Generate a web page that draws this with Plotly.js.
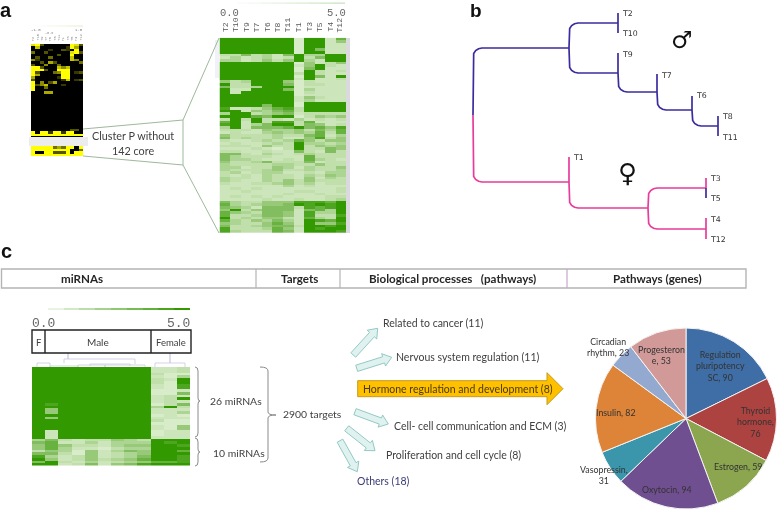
<!DOCTYPE html>
<html><head><meta charset="utf-8">
<script src="https://cdn.plot.ly/plotly-3.0.1.min.js"></script>
<style>html,body{margin:0;padding:0;background:#fff}#chart{width:778px;height:511px;filter:blur(0.4px)}</style>
</head><body><div id="chart"></div>
<script>
const W=778,H=511;
const sampleLabels=["T2","T10","T9","T7","T6","T8","T11","T1","T3","T5","T4","T12"];
// Panel a, right heatmap, 0-9 shade levels
const clusterRows=[
[9,9,9,9,9,9,9,1,9,9,2,7],[9,9,9,9,9,9,9,1,9,9,2,5],[9,9,9,9,9,9,9,1,9,9,2,2],[9,9,9,9,9,9,9,1,9,9,2,2],[9,9,9,9,9,9,9,1,9,6,2,2],[9,9,9,9,9,9,9,1,9,9,2,2],
[3,3,6,3,4,2,6,9,4,4,9,9],[2,4,2,3,4,2,3,9,3,6,9,9],[4,4,2,3,5,3,5,9,4,2,9,9],
[9,9,9,9,9,9,9,1,5,2,3,5],[9,9,9,9,9,9,9,2,5,9,3,2],[9,9,9,9,9,9,9,1,6,9,2,2],[9,9,9,9,9,9,9,1,9,3,2,3],[9,9,9,9,9,9,9,3,9,3,2,2],[9,9,9,9,9,9,9,1,9,6,2,9],[9,9,9,9,9,9,9,2,9,2,2,3],
[5,3,4,9,9,9,5,1,3,2,2,2],[9,3,3,9,9,9,6,1,3,3,2,2],[6,3,3,4,9,9,9,1,2,2,2,2],[9,2,2,9,9,9,6,1,4,2,2,2],[9,2,9,9,9,9,9,1,3,2,2,2],[9,9,9,9,9,9,9,1,2,2,2,2],[9,9,9,9,9,9,9,2,5,3,2,2],[9,9,9,9,9,9,9,2,4,2,2,2],
[9,9,9,9,9,9,9,1,9,9,9,9],[9,9,9,9,6,9,9,1,9,9,9,9],[8,2,2,3,5,7,8,3,9,9,9,9],[9,9,2,5,4,6,7,3,9,9,9,9],
[4,9,9,3,4,5,6,2,3,3,3,3],[9,9,9,7,6,9,9,1,3,5,4,5],[3,9,3,9,3,3,2,4,2,3,2,3],
[7,9,2,9,3,8,8,3,7,2,2,2],[8,9,2,4,6,9,9,3,6,5,2,3],[4,9,2,6,6,6,7,9,6,7,5,8],
[3,3,3,2,5,4,4,5,3,6,4,7],[2,3,2,2,4,5,4,5,4,7,3,7],[5,3,3,3,3,4,3,3,6,7,2,4],[6,3,4,3,3,4,2,2,5,8,3,5],[3,2,2,3,4,3,4,7,5,3,5,5],[2,3,2,2,3,4,3,9,4,4,3,4],[3,3,3,2,5,3,3,9,3,5,4,5],[2,2,2,3,2,1,3,9,3,3,6,5],[3,3,2,2,3,2,2,6,3,2,6,3],
[6,6,3,2,4,3,2,3,4,3,3,3],[6,4,3,3,3,2,2,2,7,3,3,3],[6,4,4,3,2,2,3,2,7,4,3,2],[5,3,3,4,6,3,3,3,6,2,3,3],[4,3,3,3,3,4,4,3,3,5,3,3],[4,4,2,3,3,5,4,2,4,3,3,5],[4,3,3,3,4,5,3,3,4,3,3,4],[3,4,2,3,4,4,2,2,3,2,4,4],[3,2,3,2,4,3,3,2,4,3,5,4],[4,3,3,2,4,3,3,2,5,2,4,3],[4,3,2,2,4,3,5,3,5,3,3,3],[3,2,2,3,3,4,5,3,4,2,3,3],
[2,2,2,2,2,2,4,2,3,2,2,2],[2,3,2,3,2,2,2,2,2,2,2,3],[2,2,3,2,2,2,2,3,3,2,2,3],[2,2,2,2,2,2,3,2,2,3,2,2],[2,3,2,3,2,3,2,2,2,2,3,3],[2,2,2,2,3,2,2,3,2,2,3,4],
[6,4,3,3,5,5,5,8,8,8,7,9],[7,4,3,4,5,5,6,9,8,9,8,9],[6,5,4,2,6,6,6,3,8,7,8,9],[5,9,3,5,6,6,6,2,6,7,4,9],[7,5,4,3,6,6,5,2,8,4,4,9],[7,3,3,4,6,6,5,2,8,3,3,8],[9,3,4,3,5,5,3,2,7,4,3,9],[7,4,3,5,4,6,4,2,9,8,7,9],[5,4,3,3,5,7,5,2,9,5,5,8],[6,3,3,4,5,6,6,3,9,9,8,9],[8,3,3,3,4,7,5,2,9,8,9,9],[8,4,3,3,3,7,6,2,9,9,9,8]
];
// Panel a, left black/yellow heatmap
const blackRow=[0,0,0,0,0,0,0,0,0,0,0,0];
const overviewRows=[
[8,9,3,0,0,0,0,0,0,9,8,3],[0,7,0,0,0,0,0,0,2,9,6,0],[0,0,0,0,2,0,0,3,2,0,9,0],[4,0,0,3,0,0,0,0,0,8,9,3],[0,0,0,0,0,0,3,0,0,9,0,0],[0,3,0,0,4,0,0,0,0,7,0,0],[5,2,0,0,0,0,0,0,0,7,5,0],[0,0,3,0,6,3,0,0,0,0,0,4],[3,0,0,5,0,0,4,0,0,0,0,0],
[9,9,3,0,0,0,7,5,7,0,0,0],[9,9,9,3,0,0,9,9,9,0,0,0],[9,3,0,0,0,4,5,9,9,0,2,3],[9,6,0,0,0,0,0,9,9,0,0,0],[6,0,0,0,0,0,2,9,9,0,0,0],[3,0,0,0,0,0,0,2,7,0,2,3],[9,0,5,0,3,6,0,0,0,0,0,0],[9,3,5,7,0,0,0,2,0,0,0,0],[9,0,0,4,0,0,0,0,0,0,0,0],[9,0,0,0,0,0,0,0,0,0,0,0],[0,0,0,6,6,0,0,0,0,0,0,0],
blackRow,blackRow,blackRow,blackRow,blackRow,blackRow,blackRow,blackRow,blackRow,blackRow,blackRow,blackRow,blackRow,blackRow,
[0,0,0,0,0,0,0,0,0,3,3,0],[9,0,9,9,2,9,9,2,9,9,0,0],[9,9,9,9,9,9,9,9,9,9,9,9],
blackRow,blackRow,blackRow,blackRow,
[9,9,9,9,9,4,6,4,9,9,0,9],[9,9,9,9,9,9,9,9,9,0,0,4],[9,0,0,9,9,3,3,3,9,0,9,9],[9,9,9,9,9,9,9,9,9,9,9,9]
];
// Panel c heatmap: 26 + 10 miRNAs
const mirnaRows=[
[9,9,9,9,9,9,9,9,9,2,2,3],[9,9,9,9,9,9,9,9,9,2,2,3],[9,9,9,9,9,9,9,9,9,3,1,1],[9,9,9,9,9,9,9,9,9,2,1,4],[9,9,9,9,9,9,9,9,9,3,2,9],[9,9,9,9,9,9,9,9,9,3,1,9],[9,9,9,9,9,9,9,9,9,2,1,8],[9,9,9,9,9,9,9,9,9,2,1,8],[9,9,9,9,9,9,9,9,9,1,1,2],[9,9,9,9,9,9,9,9,9,1,1,6],[9,9,9,9,9,9,9,9,9,2,3,2],[9,9,9,9,9,9,9,9,9,2,3,9],[9,9,9,9,9,9,9,9,9,2,3,2],
[9,8,9,9,9,9,9,9,9,1,3,6],[9,9,9,9,9,9,9,9,9,4,9,3],[9,5,9,9,9,9,9,9,9,2,2,2],[9,5,9,9,9,9,9,9,9,2,2,4],[9,9,9,9,9,9,9,9,9,1,2,1],[9,5,9,9,9,9,9,9,9,2,2,2],[9,9,9,9,9,9,9,9,9,3,1,1],[9,9,9,9,9,9,9,9,9,1,1,1],[9,9,9,9,9,9,9,9,9,2,1,5],[9,9,9,9,9,9,9,9,9,2,1,5],[9,2,9,9,9,9,9,9,9,1,2,2],[9,2,9,9,9,9,9,9,9,1,2,2],[9,2,9,9,9,9,9,9,9,2,2,2],
[4,6,3,2,3,3,5,4,3,9,9,9],[6,7,2,2,4,2,4,4,4,9,8,9],[5,7,5,3,3,2,4,5,5,9,9,8],[5,7,4,2,2,1,3,4,4,9,9,9],[3,5,4,1,5,2,4,6,5,9,9,7],[6,6,3,1,5,2,3,4,5,9,9,9],[8,4,2,3,5,2,3,4,6,9,9,8],[9,5,2,3,5,3,4,5,7,9,9,8],[6,9,3,2,4,2,3,4,5,7,7,8],[9,9,2,3,6,2,5,6,8,9,9,9]
];
const gradientLevels=[0,1,2,3,4,5,6,7,8,9];
// Panel b: tree
const blue="#3a2c9f",pink="#e83b9b";
const elbows=[ // from node (x0,y0) vertically to y1, then along to x1
[473,115,48,569,blue],[473,115,182,569,pink],
[569,48,23,618,blue],[569,48,73,618,blue],[618,73,92,657,blue],[657,92,110,692,blue],[692,110,126,718,blue],
[569,182,208,648,pink],[648,208,188,706,pink],[648,208,229,706,pink]];
const tips=[[618,13,33,blue],[618,53,73,blue],[657,74,92,blue],[692,96,110,blue],[718,116,136,blue],[569,157,182,pink],[706,178,188,pink],[706,188,198,blue],[706,218,239,pink]];
const treeLabels=[["T2",621,13],["T10",621,33],["T9",621,54],["T7",660,75],["T6",695,95],["T8",721,116],["T11",721,137],["T1",572,157],["T3",709,178],["T5",709,198],["T4",709,219],["T12",709,239]];
// Panel c: faint miRNA dendrogram
const dendroX=[[37,37,50,50],[50,50,78,78],[64,64,135,135],[68,68,68,68],[78,78,105,105],[90,90,130,130],[105,105,145,145],[155,155,185,185],[170,170,170,170]];
const dendroY=[[367,363,363,367],[367,366,366,367],[363,359,359,364],[359,353,353,359],[367,365,365,367],[366,364,364,366],[367,365,365,367],[367,363,363,367],[363,353,353,363]];
// Panel c: pathways arrows
const sideArrowTails=[[353.3,355],[356.7,368.3],[355,411.7],[346.7,428.3],[340,440.7]];
const sideArrowTips=[[377.7,328.3],[391.7,357.3],[388.3,424],[375,450.7],[357.3,471.7]];
const processes=[["Related to cancer (11)",382,323,"#404040"],["Nervous system regulation (11)",395,357,"#404040"],["Hormone regulation and development (8)",362,389,"#4a3a10"],["Cell- cell communication and ECM (3)",393,426,"#404040"],["Proliferation and cell cycle (8)",385,455,"#404040"],["Others (18)",356,481,"#3b3b78"]];
// Panel c: pie
const pieLabels=["Regulation pluripotency SC","Thyroid hormone","Estrogen","Oxytocin","Vasopressin","Insulin","Circadian rhythm","Progesterone"];
const pieValues=[90,76,59,94,31,82,23,53];
const pieColors=["#3e6ea5","#ad4340","#8ba64e","#6f4f90","#3c96ab","#dd8438","#93a9d0","#d19a98"];
const pieText=[["Regulation<br>pluripotency<br>SC, 90",720.7,366],["Thyroid<br>hormone,<br>76",755.7,421.7],["Estrogen, 59",737.7,466.7],["Oxytocin, 94",666.7,489],["Vasopressin,<br>31",604,475],["Insulin, 82",616.3,412.3],["Circadian<br>rhythm, 23",608,346.7],["Progesteron<br>e, 53",661,355]];
const headers=[["miRNAs",82],["Targets",299],["Biological processes &nbsp; (pathways)",452],["Pathways (genes)",657]];

const sans="Lato, 'Noto Sans', sans-serif",mono="'Liberation Mono', monospace",arial="'Liberation Sans', Arial, sans-serif";
const greens=[[0,"#e4f2d8"],[0.33,"#c2dfab"],[0.66,"#84bf62"],[1,"#339900"]];
const layout={width:W,height:H,margin:{l:0,r:0,t:0,b:0},paper_bgcolor:"#fff",plot_bgcolor:"rgba(0,0,0,0)",showlegend:false,hovermode:false,
 xaxis:{domain:[0,1],range:[0,W],visible:false,fixedrange:true},yaxis:{domain:[0,1],range:[H,0],visible:false,fixedrange:true},shapes:[],annotations:[]};
const traces=[];
let axisNo=2;
function heat(z,x0,x1,y0,y1,scale){
 const n=axisNo++;
 layout["xaxis"+n]={domain:[x0/W,x1/W],visible:false,fixedrange:true,anchor:"y"+n,range:[-0.5,z[0].length-0.5]};
 layout["yaxis"+n]={domain:[1-y1/H,1-y0/H],visible:false,fixedrange:true,anchor:"x"+n,range:[z.length-0.5,-0.5]};
 traces.push({type:"heatmap",z:z,zmin:0,zmax:9,colorscale:scale,showscale:false,xaxis:"x"+n,yaxis:"y"+n,hoverinfo:"skip",xgap:0,ygap:0});
}
function text(t,x,y,size,opt){opt=opt||{};
 layout.annotations.push({text:t,x:x,y:y,xref:"x",yref:"y",showarrow:false,xanchor:opt.anchor||"center",yanchor:opt.yanchor||"middle",textangle:opt.angle||0,align:"center",borderpad:0,
  font:{family:opt.family||sans,size:size,color:opt.color||"#404040",weight:opt.weight||400}});
}
function shape(o){layout.shapes.push(Object.assign({xref:"x",yref:"y",layer:"above"},o));}
function line(x0,y0,x1,y1,color,w){shape({type:"line",x0,y0,x1,y1,line:{color,width:w}});}

// ---- panel a
heat(overviewRows,31,83,44,156,[[0,"#000"],[0.3,"#4a4a00"],[1,"#ffff00"]]);
shape({type:"rect",x0:29,x1:88,y0:137,y1:146,fillcolor:"#ececec",line:{width:0}});
heat([gradientLevels],31,83,25.5,26.5,[[0,"#fff"],[1,"#d6d69a"]]);
text("-1.0",36,30,4,{color:"#777",family:mono});text("-0.8",49,32.5,3.5,{color:"#888",family:mono});text("1.0",79,30,4,{color:"#777",family:mono});
sampleLabels.forEach((s,i)=>text(s,33.2+i*4.3,42,3.6,{angle:-90,family:mono,color:"#8a8a8a",yanchor:"bottom"}));
heat(clusterRows,219.5,346,37.7,233,greens);
shape({type:"rect",x0:346,x1:350,y0:38,y1:233,fillcolor:"#d9d9de",line:{width:0}});
shape({type:"rect",x0:215,x1:219,y0:40,y1:78,fillcolor:"#f1f1f8",line:{width:0}});
heat([gradientLevels],225,345,2.5,3.8,[[0,"#fff"],[1,"#8fc47c"]]);
text("0.0",229,12.5,10.5,{family:mono,color:"#666"});text("5.0",336,12.5,10.5,{family:mono,color:"#666"});
sampleLabels.forEach((s,i)=>text(s,225+i*10.45,33,8,{angle:-90,family:mono,color:"#555",yanchor:"bottom"}));
const zoomLine="#9db99b";
[[83,129,183,120],[83,156,183,165],[183,120,183,165],[183,120,219,38],[183,165,219,233]].forEach(s=>line(s[0],s[1],s[2],s[3],zoomLine,1));
text("Cluster P without",133,135.5,10.8);text("142 core",133,150,10.8);
text("a",6,10,20,{family:arial,color:"#111",weight:700});
text("b",476,10.5,19,{family:arial,color:"#111",weight:700});
text("c",6,251,20,{family:arial,color:"#111",weight:700});

// ---- panel b
function elbow(e){const x0=e[0],y0=e[1],y1=e[2],x1=e[3],r=9,s=y1>y0?1:-1;
 const xs=[x0,x0],ys=[y0,y1-s*r];
 [0.38,0.71,0.92].forEach((k,i)=>{const c=[0.076,0.293,0.617][i];xs.push(x0+r*c);ys.push(y1-s*r*(1-k));});
 xs.push(x0+r,x1);ys.push(y1,y1);
 traces.push({type:"scatter",mode:"lines",x:xs,y:ys,line:{color:e[4],width:1.7},hoverinfo:"skip"});}
elbows.forEach(elbow);
tips.forEach(t=>traces.push({type:"scatter",mode:"lines",x:[t[0],t[0]],y:[t[1],t[2]],line:{color:t[3],width:1.7},hoverinfo:"skip"}));
treeLabels.forEach(t=>text(t[0],t[1],t[2],7.8,{anchor:"left",family:"'DejaVu Sans', sans-serif",color:"#333"}));
text("♂",682,40,24,{family:"'DejaVu Sans', sans-serif",color:"#111"});
text("♀",627,173,26,{family:"'DejaVu Sans', sans-serif",color:"#111"});

// ---- panel c table
shape({type:"rect",x0:1.5,x1:746,y0:269,y1:288,line:{color:"#b4b4b4",width:1.4}});
line(256,269,256,288,"#b4b4b4",1.2);line(340,269,340,288,"#b4b4b4",1.2);line(567,269,567,288,"#c4a8c8",1.2);
headers.forEach(h=>text(h[0],h[1],278.5,11.6,{color:"#262626",weight:700}));

// ---- panel c heatmap
heat(mirnaRows,32,190,367,465.6,greens);
heat([gradientLevels],32,190,308,310,[[0,"#fff"],[1,"#339900"]]);
text("0.0",43,323.5,13,{family:mono,color:"#666"});text("5.0",178,323.5,13,{family:mono,color:"#666"});
shape({type:"rect",x0:32,x1:191,y0:330,y1:353,line:{color:"#222",width:1.4}});
line(45,330,45,353,"#222",1.4);line(151,330,151,353,"#222",1.4);
text("F",39,342,9.5);text("Male",98,342,10);text("Female",171,342,9.5);
dendroX.forEach((xs,i)=>traces.push({type:"scatter",mode:"lines",x:xs,y:dendroY[i],line:{color:"#c8c8e0",width:0.8},hoverinfo:"skip"}));
function brace(x,yt,yb,ym,w,tip){const c="#8a8a8a";
 shape({type:"path",path:`M ${x} ${yt} Q ${x+w} ${yt} ${x+w} ${yt+4} L ${x+w} ${ym-3} Q ${x+w} ${ym} ${x+w+tip} ${ym} Q ${x+w} ${ym} ${x+w} ${ym+3} L ${x+w} ${yb-4} Q ${x+w} ${yb} ${x} ${yb}`,line:{color:c,width:1}});}
brace(195,367,437,401,3,2);brace(195,438,466,452,3,2);brace(260,367,462,415,8,8);
text("26 miRNAs",236,401,10.4);text("10 miRNAs",239,452.7,10.4);text("2900 targets",312,414,10.4);

// ---- arrows
function arrow(a,b,sw,hw,hl,fill,stroke){const dx=b[0]-a[0],dy=b[1]-a[1],L=Math.hypot(dx,dy),ux=dx/L,uy=dy/L,nx=-uy,ny=ux;
 const bx=b[0]-ux*hl,by=b[1]-uy*hl,P=(x,y,k)=>(x+nx*k)+" "+(y+ny*k);
 shape({type:"path",path:`M ${P(a[0],a[1],sw/2)} L ${P(bx,by,sw/2)} L ${P(bx,by,hw/2)} L ${b[0]} ${b[1]} L ${P(bx,by,-hw/2)} L ${P(bx,by,-sw/2)} L ${P(a[0],a[1],-sw/2)} Z`,fillcolor:fill,line:{color:stroke,width:1}});}
sideArrowTails.forEach((a,i)=>arrow(a,sideArrowTips[i],6.5,13,8.5,"#dff2f0","#93c9c6"));
arrow([357.7,388.7],[563,388.7],16,32,16,"#ffc000","#c39a1e");
processes.forEach(p=>text(p[0],p[1],p[2],10.5,{anchor:"left",color:p[3]}));

// ---- pie
traces.push({type:"pie",labels:pieLabels,values:pieValues,sort:false,direction:"clockwise",rotation:0,textinfo:"none",hoverinfo:"skip",
 marker:{colors:pieColors,line:{color:"#f4f4f4",width:1}},domain:{x:[595.5/W,776.5/W],y:[1-509/H,1-328/H]}});
pieText.forEach(p=>text(p[0],p[1],p[2],8.8,{color:"#333"}));

Plotly.newPlot("chart",traces,layout,{staticPlot:true,displayModeBar:false});
</script></body></html>
